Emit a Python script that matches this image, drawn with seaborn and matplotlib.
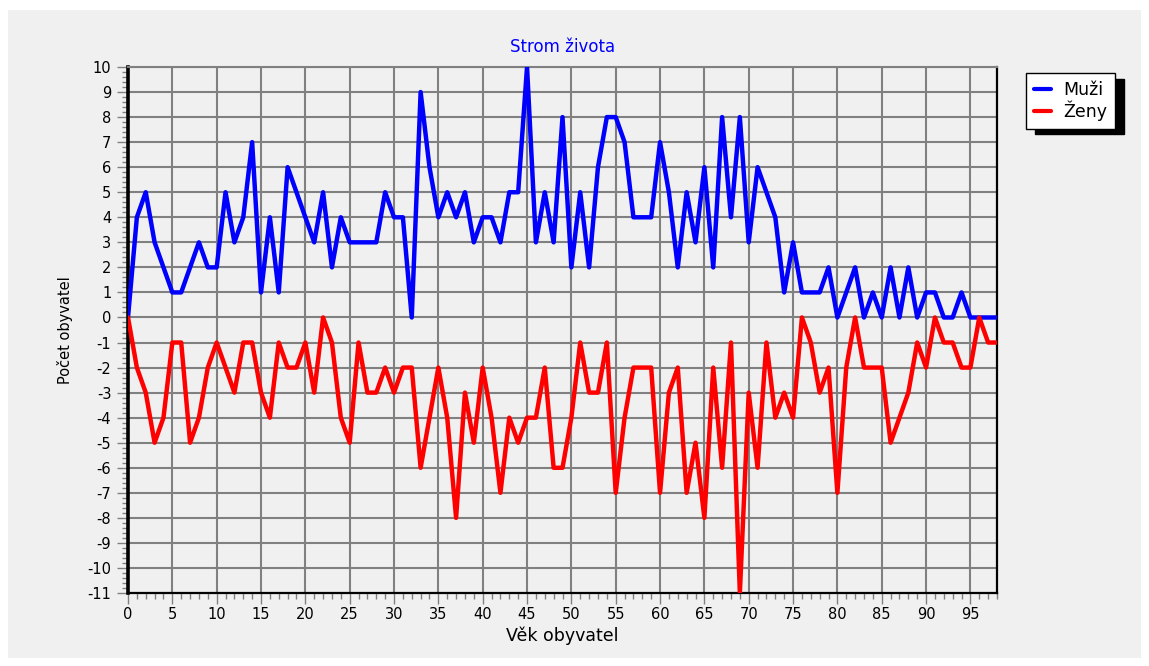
import matplotlib
matplotlib.use('Agg')

import matplotlib.pyplot as plt
from matplotlib.patches import Rectangle
from matplotlib.ticker import MultipleLocator
import seaborn as sns
import pandas as pd

# data
vek = list(range(0, 99))
muzi = [0, 4, 5, 3, 2, 1, 1, 2, 3, 2, 2, 5, 3, 4, 7, 1, 4, 1, 6, 5,
        4, 3, 5, 2, 4, 3, 3, 3, 3, 5, 4, 4, 0, 9, 6, 4, 5, 4, 5, 3,
        4, 4, 3, 5, 5, 10, 3, 5, 3, 8, 2, 5, 2, 6, 8, 8, 7, 4, 4, 4,
        7, 5, 2, 5, 3, 6, 2, 8, 4, 8, 3, 6, 5, 4, 1, 3, 1, 1, 1, 2,
        0, 1, 2, 0, 1, 0, 2, 0, 2, 0, 1, 1, 0, 0, 1, 0, 0, 0, 0]
zeny = [0, -2, -3, -5, -4, -1, -1, -5, -4, -2, -1, -2, -3, -1, -1, -3, -4, -1, -2, -2,
        -1, -3, 0, -1, -4, -5, -1, -3, -3, -2, -3, -2, -2, -6, -4, -2, -4, -8, -3, -5,
        -2, -4, -7, -4, -5, -4, -4, -2, -6, -6, -4, -1, -3, -3, -1, -7, -4, -2, -2, -2,
        -7, -3, -2, -7, -5, -8, -2, -6, -1, -11, -3, -6, -1, -4, -3, -4, 0, -1, -3, -2,
        -7, -2, 0, -2, -2, -2, -5, -4, -3, -1, -2, 0, -1, -1, -2, -2, 0, -1, -1]
serie = ['Muži', 'Ženy']
barvy = {'Muži': '#0000ff', 'Ženy': '#ff0000'}

df = pd.DataFrame({
    'vek': vek * 2,
    'pocet': muzi + zeny,
    'serie': [serie[0]] * len(vek) + [serie[1]] * len(vek),
})

sns.set_style('white')
plt.rcParams['font.family'] = ['DejaVu Sans']
plt.rcParams['axes.unicode_minus'] = False
plt.rcParams['text.color'] = 'black'
plt.rcParams['axes.labelcolor'] = 'black'

W, H = 1149, 666
fig = plt.figure(figsize=(W / 100, H / 100), dpi=100, facecolor='white')
# grey panel behind everything
fig.patches.append(Rectangle((8 / W, 1 - 658 / H), (1141 - 8) / W, (658 - 10) / H,
                             transform=fig.transFigure, facecolor='#f0f0f0',
                             edgecolor='none', zorder=-10))

ax = fig.add_axes([128 / W, 1 - 593 / H, (997 - 128) / W, (593 - 67) / H])
ax.set_facecolor('#f0f0f0')

sns.lineplot(data=df, x='vek', y='pocet', hue='serie', palette=barvy,
             linewidth=3.2, ax=ax, legend=False, zorder=3)

ax.set_xlim(0, 98)
ax.set_ylim(-11, 10)
ax.xaxis.set_major_locator(MultipleLocator(5))
ax.xaxis.set_minor_locator(MultipleLocator(1))
ax.yaxis.set_major_locator(MultipleLocator(1))
ax.yaxis.set_minor_locator(MultipleLocator(0.2))
ax.grid(which='major', color='#808080', linewidth=1.5, zorder=1)
ax.set_axisbelow(True)

ax.tick_params(axis='y', which='major', length=8, width=1, color='#808080',
               labelcolor='black', labelsize=10.5, pad=4, left=True)
ax.tick_params(axis='y', which='minor', length=4, width=1, color='#808080', left=True)
ax.tick_params(axis='x', which='major', length=8, width=1, color='#808080',
               labelcolor='black', labelsize=10.5, pad=2, bottom=True)
ax.tick_params(axis='x', which='minor', length=4, width=1, color='#808080', bottom=True)

ax.spines['left'].set_color('black')
ax.spines['left'].set_linewidth(2.6)
ax.spines['bottom'].set_color('black')
ax.spines['bottom'].set_linewidth(1.6)
ax.spines['right'].set_color('black')
ax.spines['right'].set_linewidth(1.6)
ax.spines['top'].set_color('#808080')
ax.spines['top'].set_linewidth(1.5)

ax.set_title('Strom života', color='#0000ff', fontsize=12, pad=11)
ax.set_xlabel('Věk obyvatel', fontsize=12.5, labelpad=3)
ax.set_ylabel('Počet obyvatel', fontsize=10.5, labelpad=10)

handles = [plt.Line2D([], [], color=barvy[s], linewidth=3) for s in serie]
leg = fig.legend(handles, serie, loc='upper left',
                 bbox_to_anchor=(1026 / W, 1 - 73 / H), bbox_transform=fig.transFigure,
                 borderaxespad=0, fontsize=12.5, handlelength=1.0, handletextpad=0.7,
                 labelspacing=0.1, borderpad=0.45, frameon=True, fancybox=False,
                 shadow={'ox': 6.5, 'oy': -4, 'color': 'black', 'alpha': 1})
leg.get_frame().set_edgecolor('black')
leg.get_frame().set_linewidth(1)
leg.get_frame().set_facecolor('white')
leg.get_frame().set_alpha(1)

plt.savefig('out.png', dpi=100, facecolor=fig.get_facecolor())
